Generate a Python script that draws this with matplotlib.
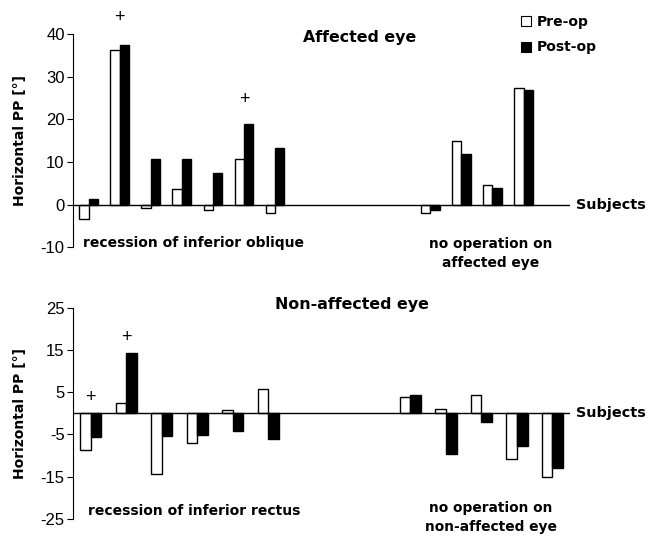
import matplotlib
matplotlib.use("Agg")
import matplotlib.pyplot as plt
from matplotlib.patches import Patch
from matplotlib.transforms import blended_transform_factory

plt.rcParams['font.family'] = ['Liberation Sans', 'DejaVu Sans']
plt.rcParams['axes.unicode_minus'] = False

# Affected eye: horizontal PP (deg), pre- and post-operative
aff_slots = [0, 1, 2, 3, 4, 5, 6, 11, 12, 13, 14]
aff_pre = [-3.3, 36.3, -0.7, 3.6, -1.3, 10.6, -2.0, -2.0, 14.9, 4.6, 27.3]
aff_post = [1.3, 37.5, 10.7, 10.7, 7.5, 18.9, 13.3, -1.3, 11.8, 3.9, 26.8]
aff_marks_x = [1, 5]
aff_marks_y = [44.0, 24.6]

# Non-affected eye
non_slots = [0, 1, 2, 3, 4, 5, 9, 10, 11, 12, 13]
non_pre = [-8.6, 2.4, -14.5, -7.0, 0.7, 5.8, 3.8, 1.0, 4.3, -10.9, -15.2]
non_post = [-5.7, 14.3, -5.3, -5.1, -4.1, -6.1, 4.3, -9.6, -2.1, -7.7, -12.9]
non_marks_x = [0, 1]
non_marks_y = [3.7, 18.0]

aff_ticks = [-10, 0, 10, 20, 30, 40]
non_ticks = [-25, -15, -5, 5, 15, 25]

W = 0.3
BOLD = dict(family='DejaVu Sans', fontweight='bold')

fig = plt.figure(figsize=(6.49, 5.36), dpi=100)
ax1 = fig.add_axes([0.1125, 0.539, 0.766, 0.397])
ax2 = fig.add_axes([0.1125, 0.032, 0.766, 0.394])


def draw(ax, slots, pre, post, nslots, ticks, mx, my, title, tx, ty):
    xp = [s - W / 2 for s in slots]
    xq = [s + W / 2 for s in slots]
    ax.bar(xp, pre, width=W, color='white', edgecolor='black', linewidth=1.0, zorder=2)
    ax.bar(xq, post, width=W, color='black', edgecolor='black', linewidth=1.0, zorder=2)
    ax.axhline(0, color='black', linewidth=1.0, zorder=3)
    ax.set_xlim(-0.5, nslots - 0.5)
    ax.set_ylim(ticks[0], ticks[-1])
    ax.set_yticks(ticks)
    ax.tick_params(axis='y', labelsize=12, length=4, width=0.8, direction='out', pad=2)
    ax.set_xticks([])
    for s in ['top', 'right', 'bottom']:
        ax.spines[s].set_visible(False)
    ax.spines['left'].set_linewidth(0.8)
    ax.set_ylabel('Horizontal PP [°]', fontsize=10, labelpad=10, **BOLD)
    for x, y in zip(mx, my):
        ax.text(x, y, '+', ha='center', va='center', fontsize=13, clip_on=False)
    tr = blended_transform_factory(ax.transAxes, ax.transData)
    ax.text(1.012, 0, 'Subjects', transform=tr, ha='left', va='center',
            fontsize=10.4, **BOLD)
    ax.text(tx, ty, title, transform=ax.transAxes, ha='center', va='center',
            fontsize=11.4, **BOLD)


draw(ax1, aff_slots, aff_pre, aff_post, 16, aff_ticks, aff_marks_x, aff_marks_y,
     'Affected eye', 0.577, 0.986)
draw(ax2, non_slots, non_pre, non_post, 14, non_ticks, non_marks_x, non_marks_y,
     'Non-affected eye', 0.561, 1.014)

ax1.text(0.02, 0.019, 'recession of inferior oblique', transform=ax1.transAxes,
         ha='left', va='center', fontsize=10.0, **BOLD)
ax1.text(0.84, -0.03, 'no operation on\naffected eye', transform=ax1.transAxes,
         ha='center', va='center', fontsize=9.9, linespacing=1.45, **BOLD)
ax2.text(0.03, 0.038, 'recession of inferior rectus', transform=ax2.transAxes,
         ha='left', va='center', fontsize=10.0, **BOLD)
ax2.text(0.84, 0.005, 'no operation on\nnon-affected eye', transform=ax2.transAxes,
         ha='center', va='center', fontsize=9.9, linespacing=1.45, **BOLD)

handles = [Patch(facecolor='white', edgecolor='black', linewidth=0.8),
           Patch(facecolor='black', edgecolor='black', linewidth=0.8)]
fig.legend(handles, ['Pre-op', 'Post-op'], loc='upper left',
           bbox_to_anchor=(0.783, 0.996), frameon=False,
           handlelength=0.75, handleheight=0.75, handletextpad=0.4,
           labelspacing=0.85, prop={'size': 10, 'weight': 'bold', 'family': 'DejaVu Sans'})

fig.savefig('out.png', dpi=100)
